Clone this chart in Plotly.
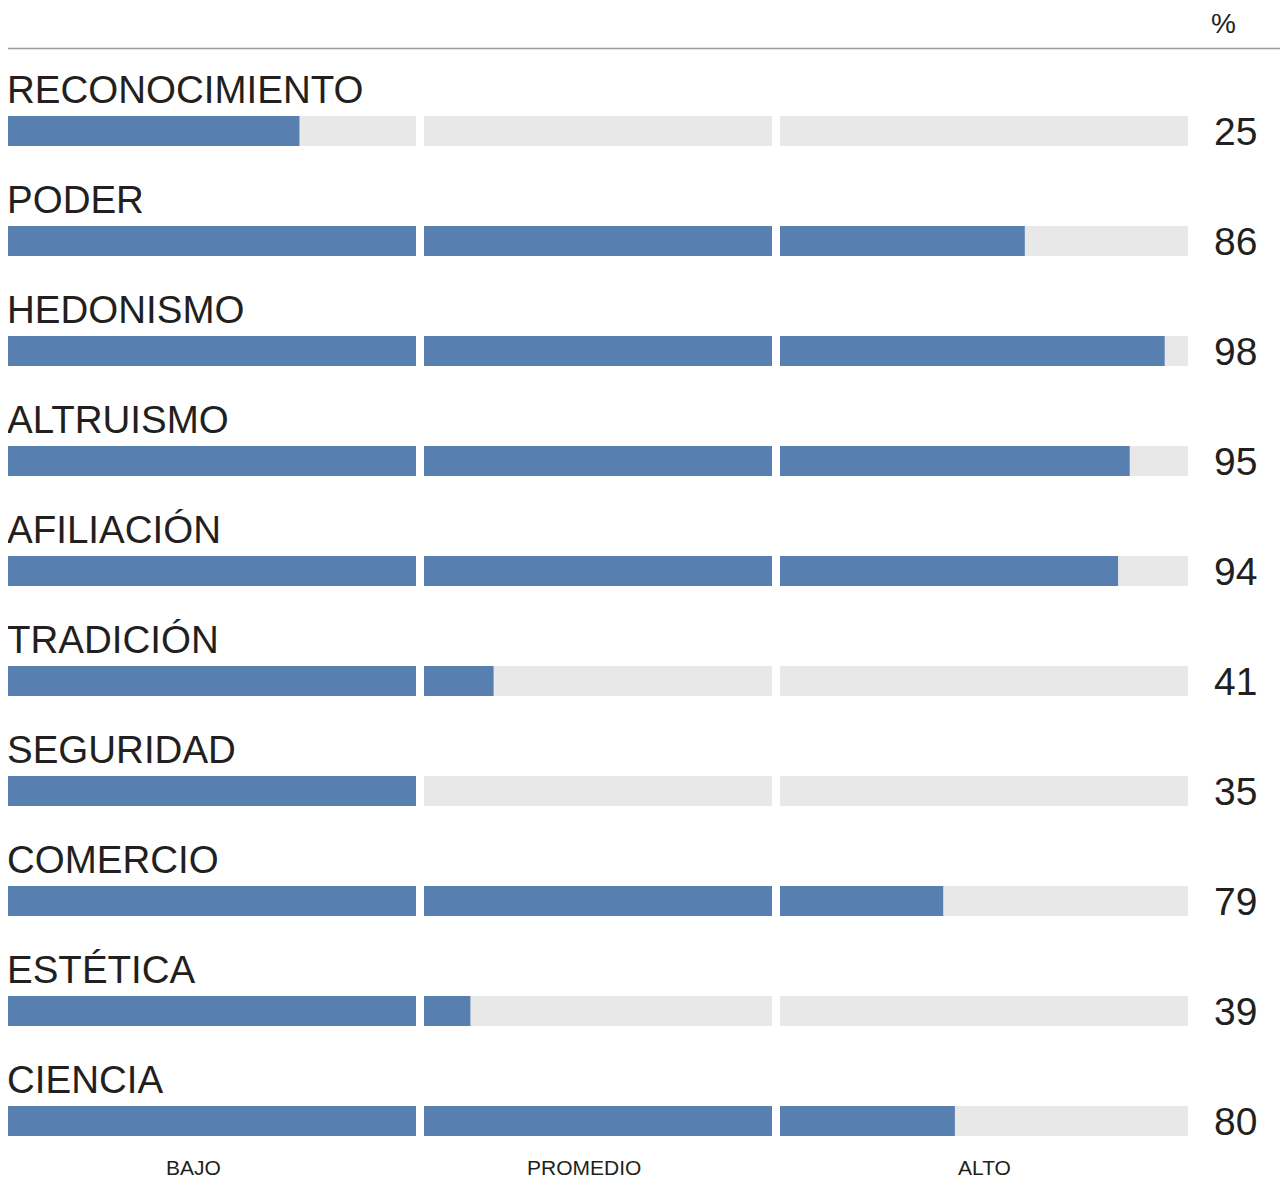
import plotly.graph_objects as go

categories = ["RECONOCIMIENTO", "PODER", "HEDONISMO", "ALTRUISMO", "AFILIACIÓN",
              "TRADICIÓN", "SEGURIDAD", "COMERCIO", "ESTÉTICA", "CIENCIA"]
values = [25, 86, 98, 95, 94, 41, 35, 79, 39, 80]
segment_names = ["BAJO", "PROMEDIO", "ALTO"]
segment_ranges = [(0, 35), (35, 65), (65, 100)]
segment_label_pos = [15.9, 48.8, 82.5]

BLUE = "#5780b0"
GREY = "#e8e8e8"
TXT = "#231f20"
FONT = "Liberation Sans, Arial, Helvetica, sans-serif"

W, H = 1280, 1172
ML, MR, MT, MB = 0, 100, 68, 4
PW = W - ML - MR
PH = H - MT - MB
n = len(categories)
row_px = PH / n

seg_px = [(0, 408), (416, 764), (772, 1180)]
domains = [(a / PW, b / PW) for a, b in seg_px]

fig = go.Figure()
ys = list(range(n))
bar_w = 30 / row_px
for k, (rng, dom) in enumerate(zip(segment_ranges, domains)):
    xa = "x" if k == 0 else f"x{k+1}"
    fig.add_trace(go.Bar(y=ys, x=[100] * n, orientation="h", marker_color=GREY,
                         marker_line_width=0, width=bar_w, xaxis=xa, yaxis="y",
                         hoverinfo="skip", showlegend=False))
    fig.add_trace(go.Bar(y=ys, x=values, orientation="h", marker_color=BLUE,
                         marker_line_width=0, width=bar_w, xaxis=xa, yaxis="y",
                         showlegend=False, hovertemplate="%{x}<extra></extra>"))
    key = "xaxis" if k == 0 else f"xaxis{k+1}"
    fig.layout[key] = dict(domain=list(dom), range=list(rng), visible=False,
                           anchor="y", fixedrange=True)
    fig.add_annotation(text=segment_names[k], xref=xa, x=segment_label_pos[k],
                       yref="y", y=n - 1, yshift=-46, showarrow=False,
                       xanchor="center", yanchor="middle",
                       font=dict(family=FONT, size=21, color=TXT))

fig.update_layout(
    barmode="overlay",
    width=W, height=H,
    margin=dict(l=ML, r=MR, t=MT, b=MB),
    paper_bgcolor="white", plot_bgcolor="white",
    yaxis=dict(range=[n - 0.5, -0.5], visible=False, fixedrange=True),
)

for i, (c, v) in enumerate(zip(categories, values)):
    fig.add_annotation(text=c, xref="paper", x=0, xanchor="left", xshift=-3,
                       yref="y", y=i, yanchor="middle", yshift=42, showarrow=False,
                       font=dict(family=FONT, size=38.5, color=TXT))
    fig.add_annotation(text=str(v), xref="paper", x=1, xanchor="left", xshift=24,
                       yref="y", y=i, yanchor="middle", yshift=0, showarrow=False,
                       font=dict(family=FONT, size=39, color=TXT))

# top rule and % sign
fig.add_shape(type="line", xref="paper", yref="paper", x0=0, x1=1.1,
              y0=1 + (MT - 40.5) / PH, y1=1 + (MT - 40.5) / PH,
              line=dict(color="#999999", width=1.5))
fig.add_annotation(text="%", xref="paper", x=1, xshift=35, xanchor="center",
                   yref="paper", y=1 + (MT - 15) / PH, yanchor="middle", showarrow=False,
                   font=dict(family="Liberation Sans Narrow, Arial Narrow, " + FONT,
                             size=28, color=TXT))

fig.write_html("out.html", config={"displayModeBar": False})
